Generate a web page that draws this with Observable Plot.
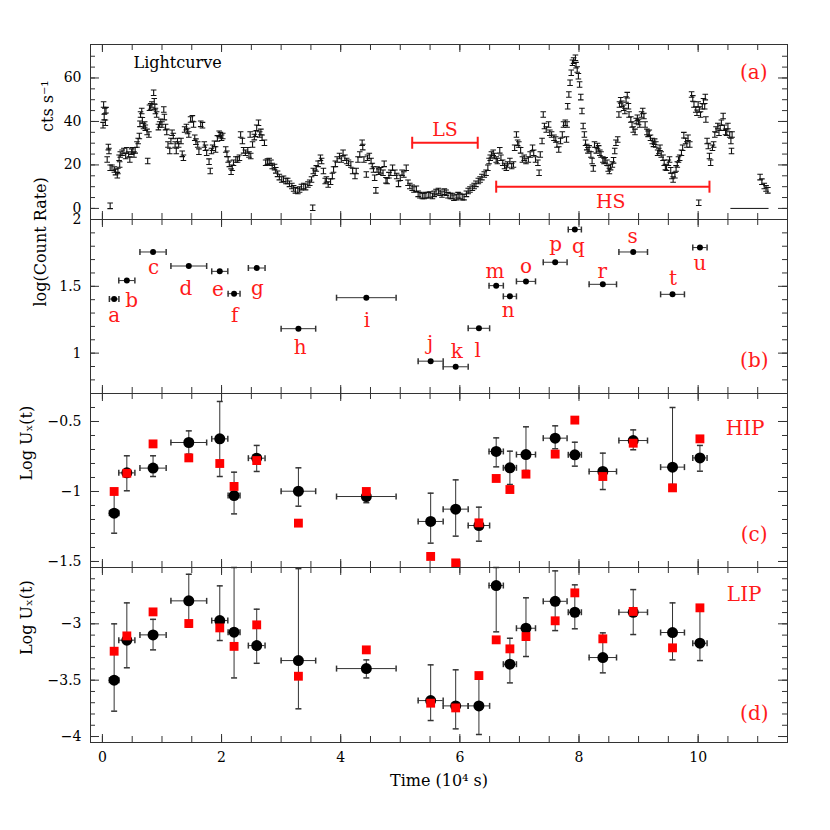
<!DOCTYPE html>
<html>
<head>
<meta charset="utf-8">
<script src="https://cdn.jsdelivr.net/npm/d3@7"></script>
<script src="https://cdn.jsdelivr.net/npm/@observablehq/plot@0.6"></script>
<style>
  body { margin: 0; background: #fff; }
  #chart { position: relative; width: 830px; height: 830px; }
  #chart svg { position: absolute; left: 0; top: 0; overflow: visible; }
</style>
</head>
<body>
<div id="chart"></div>
<script>
// ---------------- data ----------------
// (a) light curve: time (1e4 s) and count rate (cts/s)
const lcTime = [
  0.01,0.02,0.03,0.04,0.05,0.06,0.08,0.10,0.11,0.13,
  0.13,0.16,0.20,0.22,0.25,0.26,0.28,0.29,0.30,0.33,
  0.36,0.39,0.41,0.44,0.46,0.49,0.51,0.53,0.55,0.58,
  0.60,0.62,0.63,0.64,0.66,0.67,0.69,0.71,0.72,0.75,
  0.76,0.78,0.79,0.81,0.83,0.86,0.87,0.88,0.89,0.91,
  0.94,0.96,0.98,1.00,1.03,1.04,1.06,1.08,1.10,1.13,
  1.15,1.17,1.19,1.22,1.24,1.26,1.28,1.32,1.34,1.36,
  1.38,1.41,1.43,1.45,1.48,1.51,1.53,1.55,1.57,1.60,
  1.62,1.65,1.68,1.71,1.73,1.75,1.79,1.81,1.83,1.85,
  1.88,1.90,1.93,1.96,1.98,2.00,2.02,2.07,2.09,2.11,
  2.13,2.16,2.18,2.20,2.24,2.27,2.30,2.32,2.35,2.37,
  2.40,2.44,2.46,2.48,2.49,2.52,2.55,2.57,2.59,2.62,
  2.64,2.66,2.68,2.72,2.74,2.77,2.80,2.83,2.85,2.89,
  2.91,2.94,2.97,3.01,3.04,3.08,3.11,3.14,3.18,3.21,
  3.24,3.28,3.31,3.34,3.38,3.41,3.45,3.48,3.51,3.53,
  3.54,3.57,3.59,3.62,3.66,3.68,3.71,3.74,3.76,3.79,
  3.83,3.86,3.88,3.91,3.94,3.98,4.01,4.04,4.07,4.10,
  4.13,4.17,4.20,4.24,4.26,4.29,4.32,4.36,4.37,4.39,
  4.43,4.45,4.48,4.51,4.53,4.55,4.57,4.59,4.61,4.64,
  4.67,4.71,4.73,4.76,4.78,4.81,4.84,4.87,4.91,4.94,
  4.97,5.00,5.03,5.06,5.10,5.13,5.16,5.20,5.23,5.27,
  5.30,5.33,5.37,5.40,5.43,5.47,5.50,5.54,5.57,5.60,
  5.64,5.67,5.70,5.74,5.77,5.80,5.84,5.87,5.90,5.94,
  5.97,6.00,6.04,6.07,6.11,6.14,6.17,6.21,6.24,6.27,
  6.31,6.34,6.37,6.41,6.44,6.47,6.49,6.51,6.53,6.56,
  6.58,6.61,6.63,6.67,6.69,6.72,6.75,6.78,6.80,6.84,
  6.87,6.90,6.92,6.95,6.97,6.99,7.02,7.05,7.08,7.11,
  7.15,7.18,7.22,7.24,7.27,7.31,7.33,7.35,7.38,7.40,
  7.42,7.45,7.49,7.51,7.54,7.58,7.61,7.63,7.66,7.69,
  7.72,7.74,7.77,7.79,7.80,7.81,7.83,7.85,7.87,7.89,
  7.91,7.94,7.95,7.97,7.99,8.01,8.03,8.05,8.07,8.09,
  8.11,8.13,8.15,8.17,8.20,8.22,8.24,8.26,8.29,8.31,
  8.33,8.35,8.37,8.40,8.42,8.44,8.47,8.49,8.51,8.53,
  8.56,8.58,8.60,8.62,8.65,8.67,8.68,8.70,8.72,8.75,
  8.77,8.79,8.81,8.83,8.84,8.87,8.89,8.91,8.94,8.96,
  8.98,9.00,9.02,9.05,9.07,9.09,9.11,9.14,9.16,9.18,
  9.20,9.23,9.25,9.27,9.29,9.32,9.34,9.36,9.38,9.41,
  9.43,9.45,9.47,9.50,9.52,9.54,9.56,9.58,9.61,9.63,
  9.65,9.67,9.69,9.72,9.74,9.76,9.79,9.81,9.83,9.86,
  9.89,9.91,9.93,9.96,9.98,10.00,10.01,10.02,10.04,10.07,
  10.09,10.11,10.12,10.13,10.15,10.17,10.19,10.21,10.24,10.26,
  10.28,10.30,10.33,10.35,10.37,10.39,10.42,10.44,10.46,10.48,
  10.50,10.53,10.55,10.56,10.57,11.04,11.07,11.11,11.14,11.17
];
const lcRate = [
  38.3,47.8,42.0,44.8,39.4,45.2,22.5,28.2,26.4,18.7,
  1.2,18.7,17.9,16.7,15.3,17.2,23.3,20.2,24.8,25.6,
  26.4,24.1,26.7,24.8,22.5,26.1,26.7,24.8,26.7,29.4,
  31.0,33.3,38.9,43.2,44.8,40.5,37.9,38.6,37.1,35.2,
  21.8,34.0,46.3,46.9,47.8,53.2,49.3,46.6,44.8,43.2,
  37.4,38.6,39.8,38.6,45.5,42.0,37.4,35.2,29.4,26.4,
  31.0,34.8,33.3,29.4,26.4,31.0,29.4,31.0,25.1,23.3,
  36.3,37.4,35.6,34.0,40.9,41.4,38.6,32.5,30.7,29.4,
  26.1,38.9,38.3,29.4,27.9,25.6,21.5,17.2,26.4,27.9,
  29.7,27.1,32.2,34.3,33.7,32.5,33.3,27.1,25.1,22.5,
  20.5,16.9,18.7,21.0,22.5,22.5,23.3,34.0,31.0,26.7,
  25.6,26.7,24.8,34.0,24.1,29.4,32.8,34.3,37.1,39.4,
  34.0,35.2,32.5,30.2,21.0,21.5,21.8,21.0,19.5,19.0,
  17.5,15.9,14.4,13.3,13.6,12.6,12.6,11.3,10.3,9.2,
  8.3,8.0,8.7,9.8,10.3,9.8,11.0,11.8,13.3,0.3,
  17.2,16.4,18.4,20.5,23.3,21.8,17.2,12.6,13.3,11.0,
  12.3,14.9,17.9,20.5,22.5,24.1,22.5,25.6,23.3,21.8,
  21.0,20.2,17.2,14.9,17.2,22.5,24.8,30.2,28.2,22.5,
  15.6,23.3,24.1,21.8,19.5,17.9,14.1,8.3,17.9,16.9,
  17.5,16.4,20.5,12.9,12.6,15.3,16.4,18.7,16.4,14.9,
  11.3,14.1,16.4,15.6,18.7,11.8,10.3,9.5,8.7,9.0,
  6.7,6.1,5.7,5.7,6.1,6.1,6.4,5.7,6.7,7.5,
  8.0,7.2,6.4,7.7,7.2,6.1,5.7,5.7,4.9,5.2,
  6.1,5.7,5.2,5.2,6.7,8.0,8.7,9.5,10.3,11.3,
  12.6,13.3,14.4,15.6,16.4,18.7,21.8,23.3,24.8,25.6,
  24.1,22.5,21.8,26.7,23.3,21.0,19.5,18.7,20.2,21.8,
  19.5,20.2,27.9,34.0,30.2,29.4,26.7,22.5,23.3,21.8,
  22.5,24.8,27.9,25.6,22.5,21.0,16.4,24.8,31.0,43.2,
  37.9,36.3,38.6,34.8,34.0,32.5,31.7,29.4,27.1,31.0,
  34.0,38.6,39.4,31.7,38.6,47.0,52.4,57.8,62.4,67.0,
  68.0,69.3,65.9,63.9,60.8,57.0,51.2,44.8,37.9,34.0,
  30.2,28.2,26.7,27.6,24.8,21.8,18.4,29.4,26.7,28.7,
  27.6,25.6,24.8,22.5,21.8,22.1,21.0,18.4,17.2,19.0,
  20.2,22.1,26.4,30.2,31.7,43.2,47.8,49.7,48.1,46.3,
  44.8,50.1,52.1,47.0,43.2,40.9,38.6,36.3,35.2,40.2,
  41.7,39.8,38.6,43.2,44.8,42.5,38.6,35.2,34.3,34.8,
  32.5,31.0,29.7,30.7,29.4,25.6,26.4,27.9,24.8,23.3,
  21.0,19.0,18.7,21.0,22.5,17.5,14.9,13.3,15.3,18.4,
  20.2,22.5,23.3,25.6,27.9,33.7,31.0,29.4,32.5,29.4,
  52.4,50.6,47.8,45.5,44.0,47.8,2.6,45.5,43.2,47.0,
  49.3,47.0,51.2,40.9,31.0,28.7,24.1,21.0,27.9,29.4,
  34.0,36.3,37.9,34.8,37.1,39.4,42.5,37.1,35.2,34.8,
  37.9,34.0,31.0,26.4,34.0,14.4,12.3,10.3,9.2,8.3
];
// data gap drawn at zero rate
const gapStart = [10.55], gapEnd = [11.19], gapRate = [0];
// state intervals
const stateNames = ["LS", "HS"];
const stateStart = [5.20, 6.61];
const stateEnd = [6.30, 10.19];
const stateLevel = [30.2, 10.0];

// (b)-(d) segments
const segLabels = ["a","b","c","d","e","f","g","h","i","j","k","l","m","n","o","p","q","r","s","t","u"];
const segTime = [0.197,0.41,0.85,1.45,1.97,2.21,2.59,3.29,4.43,5.51,5.93,6.32,6.61,6.84,7.11,7.60,7.93,8.40,8.91,9.57,10.03];
const segHalfWidth = [0.08,0.135,0.22,0.30,0.135,0.10,0.14,0.29,0.50,0.21,0.21,0.18,0.12,0.11,0.16,0.20,0.11,0.23,0.24,0.20,0.12];
const segLogRate = [1.405,1.543,1.757,1.652,1.612,1.445,1.637,1.183,1.415,0.94,0.898,1.186,1.505,1.425,1.537,1.68,1.925,1.515,1.757,1.44,1.79];
const labelTime = [0.197,0.49,0.86,1.40,1.94,2.22,2.60,3.32,4.44,5.50,5.95,6.30,6.59,6.81,7.11,7.61,7.99,8.39,8.90,9.58,10.03];
const labelLogRate = [1.282,1.39,1.64,1.483,1.475,1.28,1.483,1.045,1.245,1.07,1.01,1.02,1.61,1.32,1.645,1.81,1.80,1.61,1.87,1.56,1.67];

// (c) HIP
const hipUx   = [-1.155,-0.867,-0.833,-0.65,-0.624,-1.029,-0.762,-0.998,-1.036,-1.214,-1.126,-1.243,-0.714,-0.831,-0.736,-0.619,-0.738,-0.857,-0.636,-0.826,-0.76];
const hipLo   = [-1.298,-0.995,-0.893,-0.733,-0.893,-1.16,-0.857,-1.105,-1.08,-1.369,-1.319,-1.355,-0.824,-0.95,-0.85,-0.695,-0.819,-0.986,-0.702,-0.95,-0.855];
const hipHi   = [-1.02,-0.745,-0.745,-0.567,-0.357,-0.862,-0.671,-0.831,-0.992,-1.012,-0.917,-1.112,-0.617,-0.712,-0.538,-0.531,-0.648,-0.726,-0.56,-0.40,-0.671];
const hipRed  = [-1.0,-0.87,-0.66,-0.76,-0.80,-0.964,-0.779,-1.226,-1.0,-1.464,-1.51,-1.224,-0.907,-0.986,-0.876,-0.733,-0.49,-0.893,-0.655,-0.974,-0.624];
// (d) LIP
const lipUx   = [-3.50,-3.145,-3.098,-2.796,-2.971,-3.074,-3.193,-3.326,-3.397,-3.681,-3.728,-3.728,-2.66,-3.358,-3.039,-2.80,-2.897,-3.299,-2.897,-3.077,-3.172];
const lipLo   = [-3.775,-3.39,-3.231,-3.03,-3.148,-3.48,-3.35,-3.754,-3.48,-3.858,-3.932,-3.982,-3.071,-3.524,-3.29,-3.06,-3.044,-3.435,-3.095,-3.32,-3.326];
const lipHi   = [-3.0,-2.814,-2.96,-2.56,-2.663,-2.5,-2.87,-2.51,-3.32,-3.364,-3.408,-3.46,-2.5,-3.128,-2.769,-2.53,-2.654,-3.08,-2.696,-2.814,-2.85];
const lipRed  = [-3.243,-3.107,-2.894,-2.997,-3.036,-3.20,-3.009,-3.465,-3.231,-3.704,-3.746,-3.459,-3.142,-3.222,-3.113,-2.973,-2.725,-3.133,-2.89,-3.213,-2.858];

// ticks
const xMinorTicks = [0,0.5,1,1.5,2,2.5,3,3.5,4,4.5,5,5.5,6,6.5,7,7.5,8,8.5,9,9.5,10,10.5,11];
const xMajorTicks = [0,2,4,6,8,10];
const aMinor = [0,5,10,15,20,25,30,35,40,45,50,55,60,65,70];
const aMajor = [0,20,40,60];
const bMinor = [0.8,0.9,1.0,1.1,1.2,1.3,1.4,1.5,1.6,1.7,1.8,1.9];
const bMajor = [1,1.5,2];
const cMinor = [-1.5,-1.4,-1.3,-1.2,-1.1,-1.0,-0.9,-0.8,-0.7,-0.6,-0.5,-0.4];
const cMajor = [-1.5,-1,-0.5];
const dMinor = [-4.0,-3.9,-3.8,-3.7,-3.6,-3.5,-3.4,-3.3,-3.2,-3.1,-3.0,-2.9,-2.8,-2.7,-2.6];
const dMajor = [-4,-3.5,-3];

// ---------------- drawing ----------------
const W = 830, H = 830, ML = 90, MR = 43;
const X_DOMAIN = [-0.2, 11.5];
const FONT = "'DejaVu Serif', 'Liberation Serif', serif";
const AX = "#333";
const RED = "#ff1a1a";
const fmt = d => (d < 0 ? "\u2212" : "") + Math.abs(d);

const errI = {draw(c, s) { const r = Math.sqrt(s / Math.PI); const w = r;
  c.moveTo(-w, -r); c.lineTo(w, -r); c.moveTo(0, -r); c.lineTo(0, r); c.moveTo(-w, r); c.lineTo(w, r); }};
const vbar = {draw(c, s) { const r = Math.sqrt(s / Math.PI); c.moveTo(0, -r); c.lineTo(0, r); }};
const hbar = {draw(c, s) { const r = Math.sqrt(s / Math.PI); c.moveTo(-r, 0); c.lineTo(r, 0); }};

const lc = lcTime.map((t, i) => ({t, v: lcRate[i]}));
const gaps = gapStart.map((s, i) => ({s, e: gapEnd[i], v: gapRate[i]}));
const states = stateNames.map((n, i) => ({n, s: stateStart[i], e: stateEnd[i], v: stateLevel[i], m: (stateStart[i] + stateEnd[i]) / 2}));
const seg = segLabels.map((l, i) => ({
  l, t: segTime[i], w: segHalfWidth[i], r: segLogRate[i], lt: labelTime[i], lr: labelLogRate[i],
  h: hipUx[i], hlo: hipLo[i], hhi: hipHi[i], hr: hipRed[i],
  p: lipUx[i], plo: lipLo[i], phi: lipHi[i], pr: lipRed[i]
}));

function frameMarks(top, bottom, yMinor, yMajor) {
  const iw = W - ML - MR, ih = H - top - bottom;
  return [
    Plot.tickY(yMinor, {y: d => d, insetRight: iw - 5, stroke: AX}),
    Plot.tickY(yMinor, {y: d => d, insetLeft: iw - 5, stroke: AX}),
    Plot.tickY(yMajor, {y: d => d, insetRight: iw - 9, stroke: AX}),
    Plot.tickY(yMajor, {y: d => d, insetLeft: iw - 9, stroke: AX}),
    Plot.tickX(xMinorTicks, {x: d => d, insetTop: ih - 6, stroke: AX}),
    Plot.tickX(xMinorTicks, {x: d => d, insetBottom: ih - 6, stroke: AX}),
    Plot.tickX(xMajorTicks, {x: d => d, insetTop: ih - 8, stroke: AX}),
    Plot.tickX(xMajorTicks, {x: d => d, insetBottom: ih - 8, stroke: AX}),
    Plot.axisY({ticks: yMajor, tickSize: 0, tickPadding: 9, tickFormat: fmt, label: null, fontSize: 14}),
    Plot.frame({stroke: AX})
  ];
}

function yLabel(text, dx) {
  return Plot.text([text], {text: d => d, frameAnchor: "left", dx, rotate: -90, lineAnchor: "middle", fontSize: 16});
}
function tag(text, frameAnchor, dx, dy) {
  return Plot.text([text], {text: d => d, frameAnchor, dx, dy, textAnchor: "end", lineAnchor: "middle", fill: RED, fontSize: 20});
}

function errMarks(yKey, loKey, hiKey) {
  return [
    Plot.ruleY(seg, {y: yKey, x1: d => d.t - d.w, x2: d => d.t + d.w, stroke: AX}),
    Plot.dot(seg, {x: d => d.t - d.w, y: yKey, symbol: vbar, r: 3, stroke: AX}),
    Plot.dot(seg, {x: d => d.t + d.w, y: yKey, symbol: vbar, r: 3, stroke: AX}),
    Plot.ruleX(seg, {x: "t", y1: loKey, y2: hiKey, stroke: AX}),
    Plot.dot(seg, {x: "t", y: loKey, symbol: hbar, r: 3, stroke: AX}),
    Plot.dot(seg, {x: "t", y: hiKey, symbol: hbar, r: 3, stroke: AX})
  ];
}

function panel({top, bottom, yDomain, yMinor, yMajor, marks, showX = false}) {
  return Plot.plot({
    width: W, height: H,
    marginLeft: ML, marginRight: MR, marginTop: top, marginBottom: bottom,
    x: showX ? {domain: X_DOMAIN} : {domain: X_DOMAIN, axis: null},
    y: {domain: yDomain},
    style: {fontFamily: FONT, fontSize: "14px", background: "transparent", overflow: "visible", color: "#000"},
    marks: [...frameMarks(top, bottom, yMinor, yMajor), ...marks]
  });
}

const chart = document.getElementById("chart");
const lsState = states.filter(d => d.n === "LS");
const hsState = states.filter(d => d.n === "HS");

// (a)
chart.append(panel({
  top: 44, bottom: 611, yDomain: [-5.1, 75.4], yMinor: aMinor, yMajor: aMajor,
  marks: [
    Plot.dot(lc, {x: "t", y: "v", symbol: errI, r: 2.8, stroke: "#111", strokeWidth: 1.1}),
    Plot.ruleY(gaps, {y: "v", x1: "s", x2: "e", stroke: "#111"}),
    Plot.ruleY(states, {y: "v", x1: "s", x2: "e", stroke: RED, strokeWidth: 2}),
    Plot.dot(states, {x: "s", y: "v", symbol: vbar, r: 6, stroke: RED, strokeWidth: 2}),
    Plot.dot(states, {x: "e", y: "v", symbol: vbar, r: 6, stroke: RED, strokeWidth: 2}),
    Plot.text(lsState, {x: "m", y: "v", text: "n", dy: -13, lineAnchor: "middle", fill: RED, fontSize: 19}),
    Plot.text(hsState, {x: "m", y: "v", text: "n", dx: 8, dy: 15, lineAnchor: "middle", fill: RED, fontSize: 19}),
    Plot.text(["Lightcurve"], {text: d => d, frameAnchor: "top-left", dx: 43, dy: 18, textAnchor: "start", lineAnchor: "middle", fontSize: 16}),
    tag("(a)", "top-right", -20, 28),
    yLabel("cts s\u207B\u00B9", -43)
  ]
}));

// (b)
chart.append(panel({
  top: 219, bottom: 437, yDomain: [0.698, 2.0], yMinor: bMinor, yMajor: bMajor,
  marks: [
    Plot.ruleY(seg, {y: "r", x1: d => d.t - d.w, x2: d => d.t + d.w, stroke: AX}),
    Plot.dot(seg, {x: d => d.t - d.w, y: "r", symbol: vbar, r: 3, stroke: AX}),
    Plot.dot(seg, {x: d => d.t + d.w, y: "r", symbol: vbar, r: 3, stroke: AX}),
    Plot.dot(seg, {x: "t", y: "r", r: 3, fill: "#000"}),
    Plot.text(seg, {x: "lt", y: "lr", text: "l", fill: RED, fontSize: 20}),
    tag("(b)", "bottom-right", -19, -33),
    yLabel("log(Count Rate)", -50)
  ]
}));

// (c)
chart.append(panel({
  top: 393, bottom: 263, yDomain: [-1.543, -0.3], yMinor: cMinor, yMajor: cMajor,
  marks: [
    ...errMarks("h", "hlo", "hhi"),
    Plot.dot(seg, {x: "t", y: "h", r: 5.5, fill: "#000"}),
    Plot.dot(seg, {x: "t", y: "hr", symbol: "square", r: 5, fill: "#ff0000"}),
    tag("HIP", "top-right", -23, 35),
    tag("(c)", "bottom-right", -20, -33),
    yLabel("Log U\u2093(t)", -64)
  ]
}));

// (d)
chart.append(panel({
  top: 567, bottom: 88, yDomain: [-4.053, -2.5], yMinor: dMinor, yMajor: dMajor, showX: true,
  marks: [
    ...errMarks("p", "plo", "phi"),
    Plot.dot(seg, {x: "t", y: "p", r: 5.5, fill: "#000"}),
    Plot.dot(seg, {x: "t", y: "pr", symbol: "square", r: 5, fill: "#ff0000"}),
    Plot.axisX({ticks: xMajorTicks, tickSize: 0, tickPadding: 10, label: null, fontSize: 14}),
    Plot.text(["Time (10\u2074 s)"], {text: d => d, frameAnchor: "bottom", dy: 38, lineAnchor: "middle", fontSize: 16}),
    tag("LIP", "top-right", -26, 27),
    tag("(d)", "bottom-right", -19, -29),
    yLabel("Log U\u2093(t)", -64)
  ]
}));
</script>
</body>
</html>
